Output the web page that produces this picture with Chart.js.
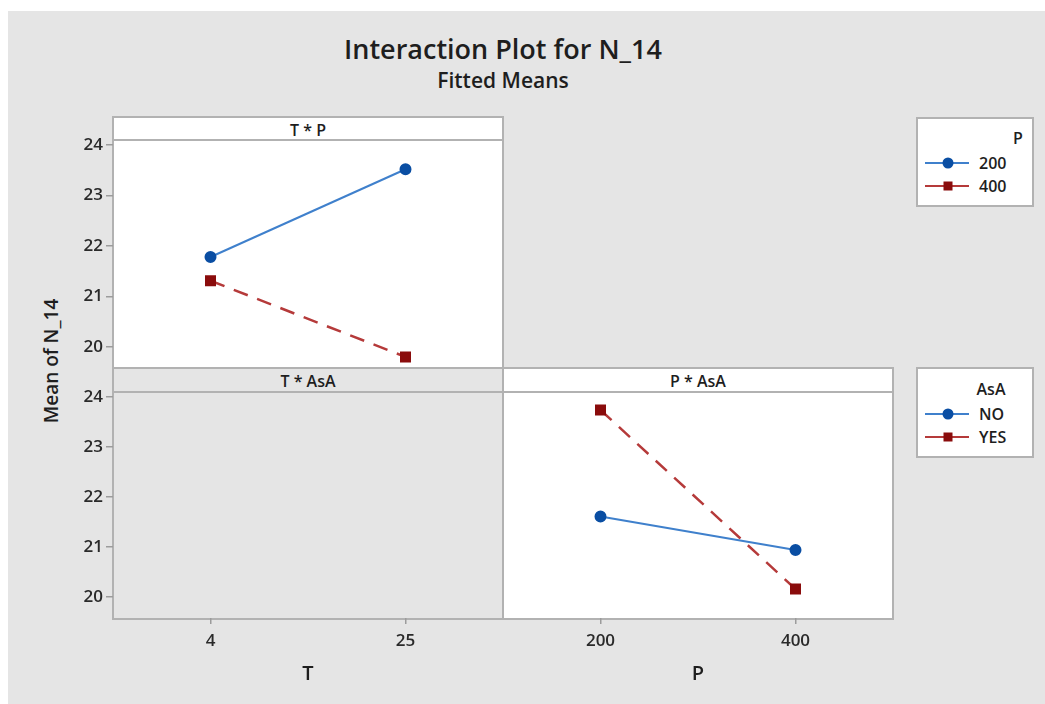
<!DOCTYPE html>
<html>
<head>
<meta charset="utf-8">
<script src="https://cdn.jsdelivr.net/npm/chart.js@4.4.0/dist/chart.umd.min.js"></script>
<style>
  body { margin: 0; width: 1045px; height: 704px; background: #fff; position: relative; overflow: hidden; font-family: "Open Sans", sans-serif; color: #1e1e1e; }
  #bg { position: absolute; left: 8px; top: 11px; width: 1037px; height: 693px; background: #e5e5e5; }
  .frame { position: absolute; box-sizing: border-box; border: 2px solid #b2b2b2; }
  .hline { position: absolute; height: 2px; background: #b2b2b2; }
  .txt { position: absolute; white-space: nowrap; transform: translate(-50%, -50%); font-weight: 600; }
  canvas { position: absolute; }
</style>
</head>
<body>
<div id="bg"></div>

<div class="txt" style="left:503px;top:48px;font-size:27px;">Interaction Plot for N_14</div>
<div class="txt" style="left:503px;top:80px;font-size:21px;">Fitted Means</div>

<!-- panel frames and strips -->
<div class="frame" style="left:112px;top:116px;width:392px;height:254px;background:#fff"></div>
<div class="hline" style="left:112px;top:139px;width:392px"></div>
<div class="txt" style="left:308px;top:130px;font-size:16px;">T * P</div>

<div class="frame" style="left:112px;top:367px;width:392px;height:253px;background:#e5e5e5"></div>
<div class="hline" style="left:112px;top:391px;width:392px"></div>
<div class="txt" style="left:308px;top:381px;font-size:16px;">T * AsA</div>

<div class="frame" style="left:502px;top:367px;width:392px;height:253px;background:#fff"></div>
<div class="hline" style="left:502px;top:391px;width:392px"></div>
<div class="txt" style="left:698px;top:381px;font-size:16px;">P * AsA</div>

<div class="txt" style="left:51px;top:361px;font-size:19px;transform:translate(-50%,-50%) rotate(-90deg);">Mean of N_14</div>

<!-- legends -->
<div class="frame" style="left:916px;top:117px;width:118px;height:90px;background:#fff"></div>
<div class="frame" style="left:916px;top:367px;width:118px;height:91px;background:#fff"></div>
<div id="legends"></div>

<canvas id="tp" width="483" height="248" style="left:20px;top:120px"></canvas>
<canvas id="ta" width="483" height="328" style="left:20px;top:372px"></canvas>
<canvas id="pa" width="390" height="328" style="left:503px;top:372px"></canvas>

<script>
// factor levels
const tLevels = ['4', '25'];
const pLevels = ['200', '400'];
const asaLevels = ['NO', 'YES'];

// T * P panel, one series per P level (values at T = 4, 25)
const tpP200 = [21.78, 23.52];
const tpP400 = [21.31, 19.80];

// P * AsA panel, one series per AsA level (values at P = 200, 400)
const paNO = [21.61, 20.94];
const paYES = [23.74, 20.16];

const yTicks = [20, 21, 22, 23, 24];
const yMin = 19.58, yMax = 24.1;

const blueLine = '#3f80cc', blueDot = '#0a4ea3';
const redLine = '#b53a3a', redDot = '#8a0c0c';
const tickFont = { family: 'Open Sans', size: 17, weight: '600' };

function yScale(show) {
    return {
        min: yMin, max: yMax, display: show,
        afterBuildTicks: s => { s.ticks = yTicks.map(v => ({ value: v })); },
        afterFit: s => { s.width = show ? 93 : 0; s.paddingTop = 0; s.paddingBottom = 0; },
        grid: { drawOnChartArea: false, tickLength: 7, color: '#9c9c9c', lineWidth: 1.5 },
        border: { display: false },
        ticks: { padding: 3, color: '#2a2a2a', font: tickFont }
    };
}

function xScale(title) {
    return {
        type: 'category', offset: true, display: !!title,
        afterFit: s => { if (title) s.height = 82; s.paddingLeft = 0; s.paddingRight = 0; },
        grid: { drawOnChartArea: false, offset: false, tickLength: 6, color: '#9c9c9c', lineWidth: 1.5 },
        border: { display: false },
        ticks: { padding: 7, color: '#2a2a2a', font: tickFont, maxRotation: 0, autoSkip: false },
        title: { display: !!title, text: title || '', color: '#1e1e1e', font: { family: 'Open Sans', size: 20, weight: '600' }, padding: { top: 0, bottom: 14 } }
    };
}

function blueSet(label, data) {
    return { label: label, data: data, borderColor: blueLine, borderWidth: 2,
        pointStyle: 'circle', pointRadius: 5, pointBackgroundColor: blueDot, pointBorderColor: blueDot };
}
function redSet(label, data) {
    return { label: label, data: data, borderColor: redLine, borderWidth: 2.5, borderDash: [15, 10],
        pointStyle: 'rect', pointRadius: 6, pointBackgroundColor: redDot, pointBorderColor: redDot };
}

function baseOptions(xTitle, showY) {
    return {
        responsive: false, animation: false,
        layout: { padding: { top: 20, left: 0, right: 0, bottom: 0 }, autoPadding: false },
        plugins: { legend: { display: false }, tooltip: { enabled: false } },
        scales: { x: xScale(xTitle), y: yScale(showY) }
    };
}

new Chart(document.getElementById('tp'), {
    type: 'line',
    data: { labels: tLevels, datasets: [blueSet(pLevels[0], tpP200), redSet(pLevels[1], tpP400)] },
    options: baseOptions(null, true)
});

new Chart(document.getElementById('ta'), {
    type: 'line',
    data: { labels: tLevels, datasets: [] },
    options: baseOptions('T', true)
});

new Chart(document.getElementById('pa'), {
    type: 'line',
    data: { labels: pLevels, datasets: [blueSet(asaLevels[0], paNO), redSet(asaLevels[1], paYES)] },
    options: baseOptions('P', false)
});

// legends (symbols + labels)
function legend(top, title, titleX, labels) {
    let html = '<div class="txt" style="left:' + titleX + 'px;top:' + (top + 21) + 'px;font-size:16px">' + title + '</div>';
    const rows = [top + 46, top + 69];
    const cols = [[blueLine, blueDot, 'c'], [redLine, redDot, 'r']];
    labels.forEach((lab, i) => {
        const y = rows[i], c = cols[i];
        const mark = c[2] === 'c'
            ? '<circle cx="24" cy="8" r="5.5" fill="' + c[1] + '"/>'
            : '<rect x="19.5" y="3.5" width="9" height="9" fill="' + c[1] + '"/>';
        html += '<svg style="position:absolute;left:924px;top:' + (y - 8) + 'px" width="46" height="16">' +
            '<line x1="1" y1="8" x2="45" y2="8" stroke="' + c[0] + '" stroke-width="1.8"/>' + mark + '</svg>';
        html += '<div style="position:absolute;left:979px;top:' + (y - 12) + 'px;font-size:16px;font-weight:600;line-height:24px">' + lab + '</div>';
    });
    return html;
}
document.getElementById('legends').innerHTML =
    legend(117, 'P', 1018, pLevels) + legend(368, 'AsA', 991, asaLevels);
</script>
</body>
</html>
